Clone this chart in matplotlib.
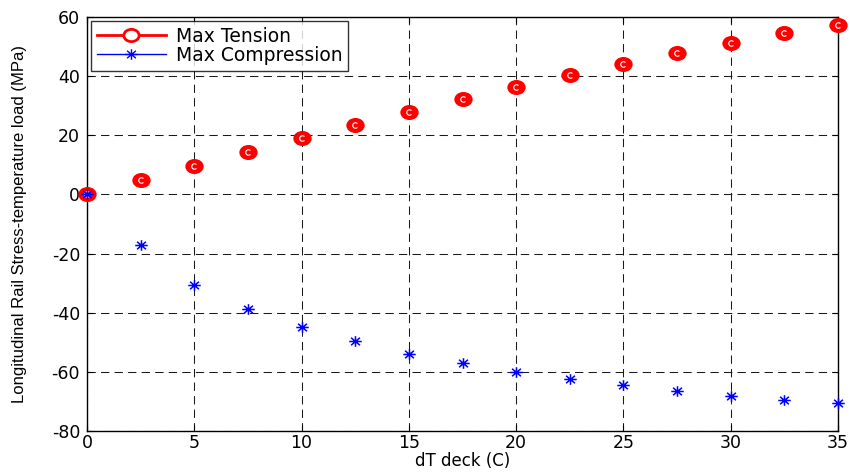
import numpy as np
import matplotlib
matplotlib.use("Agg")
import matplotlib.pyplot as plt
from matplotlib.path import Path
from matplotlib.transforms import Affine2D
from matplotlib.lines import Line2D

# Deck temperature difference (C)
dT_deck = [0, 2.5, 5, 7.5, 10, 12.5, 15, 17.5, 20, 22.5, 25, 27.5, 30, 32.5, 35]

# Rail stress from temperature load (MPa)
max_tension = [0.0, 4.9, 9.6, 14.2, 19.0, 23.5, 27.9, 32.3, 36.3, 40.4, 44.2, 47.9, 51.2, 54.5, 57.3]
max_compression = [0.0, -17.1, -30.6, -38.8, -44.8, -49.6, -54.0, -57.0, -60.0, -62.5,
                   -64.5, -66.4, -68.0, -69.4, -70.5]

x_ticks = [0, 5, 10, 15, 20, 25, 30, 35]
y_ticks = [-80, -60, -40, -20, 0, 20, 40, 60]

plt.rcParams["font.family"] = ["DejaVu Sans"]
plt.rcParams["axes.unicode_minus"] = False

# Slightly wide ellipse for the tension marker
ellipse = Path.unit_circle().transformed(Affine2D().scale(1.0, 0.8))
# Small open arc drawn inside the filled marker
arc = Path.arc(45, 315)
# Eight-armed asterisk, a little wider than tall
ang = np.deg2rad([0, 45, 90, 135])
verts, codes = [], []
for a in ang:
    dx, dy = np.cos(a), np.sin(a) * 0.85
    verts += [(-dx, -dy), (dx, dy)]
    codes += [Path.MOVETO, Path.LINETO]
asterisk = Path(verts, codes)

fig = plt.figure(figsize=(8.5, 4.72), dpi=100)
ax = fig.add_axes([87 / 850, 1 - 431 / 472, (838 - 87) / 850, (431 - 17) / 472])

ax.plot(dT_deck, max_tension, linestyle="none", marker=ellipse, markersize=12,
        markerfacecolor="red", markeredgecolor="red", markeredgewidth=1.2,
        clip_on=False, zorder=3)
ax.plot(dT_deck, max_tension, linestyle="none", marker=arc, markersize=4,
        fillstyle="none", markeredgecolor="white", markeredgewidth=0.8,
        clip_on=False, zorder=3.1)
ax.plot(dT_deck, max_compression, linestyle="none", marker=asterisk, markersize=9,
        markeredgecolor="blue", markeredgewidth=1.1, clip_on=False, zorder=4)

ax.set_xlim(0, 35)
ax.set_ylim(-80, 60)
ax.set_xticks(x_ticks)
ax.set_yticks(y_ticks)
ax.tick_params(direction="in", length=4, width=0.8, labelsize=12.5,
               top=True, right=True, colors="black")
ax.tick_params(axis="x", pad=2)
ax.tick_params(axis="y", pad=5)

ax.grid(True, color="0.1", linestyle=(0, (8, 5)), linewidth=0.75)
ax.set_axisbelow(True)
for s in ax.spines.values():
    s.set_linewidth(1.0)
    s.set_color("black")

ax.set_xlabel("dT deck (C)", fontsize=12, labelpad=0)
ax.set_ylabel("Longitudinal Rail Stress-temperature load (MPa)",
              family=["Liberation Sans Narrow", "Liberation Sans"], fontsize=12, labelpad=18)

handles = [
    Line2D([], [], color="red", linewidth=2, marker=ellipse, markersize=11,
           markerfacecolor="white", markeredgecolor="red", markeredgewidth=2),
    Line2D([], [], color="blue", linewidth=1, marker=asterisk, markersize=9,
           markeredgecolor="blue", markeredgewidth=1.0),
]
leg = ax.legend(handles, ["Max Tension", "Max Compression"], loc="upper left",
                fontsize=13.5, frameon=True, fancybox=False, borderaxespad=0.2,
                handlelength=3.7, handletextpad=0.5, labelspacing=0.0,
                borderpad=0.32)
leg.get_frame().set_edgecolor("black")
leg.get_frame().set_linewidth(1.0)
leg.set_zorder(5)

fig.savefig("out.png", dpi=100)
